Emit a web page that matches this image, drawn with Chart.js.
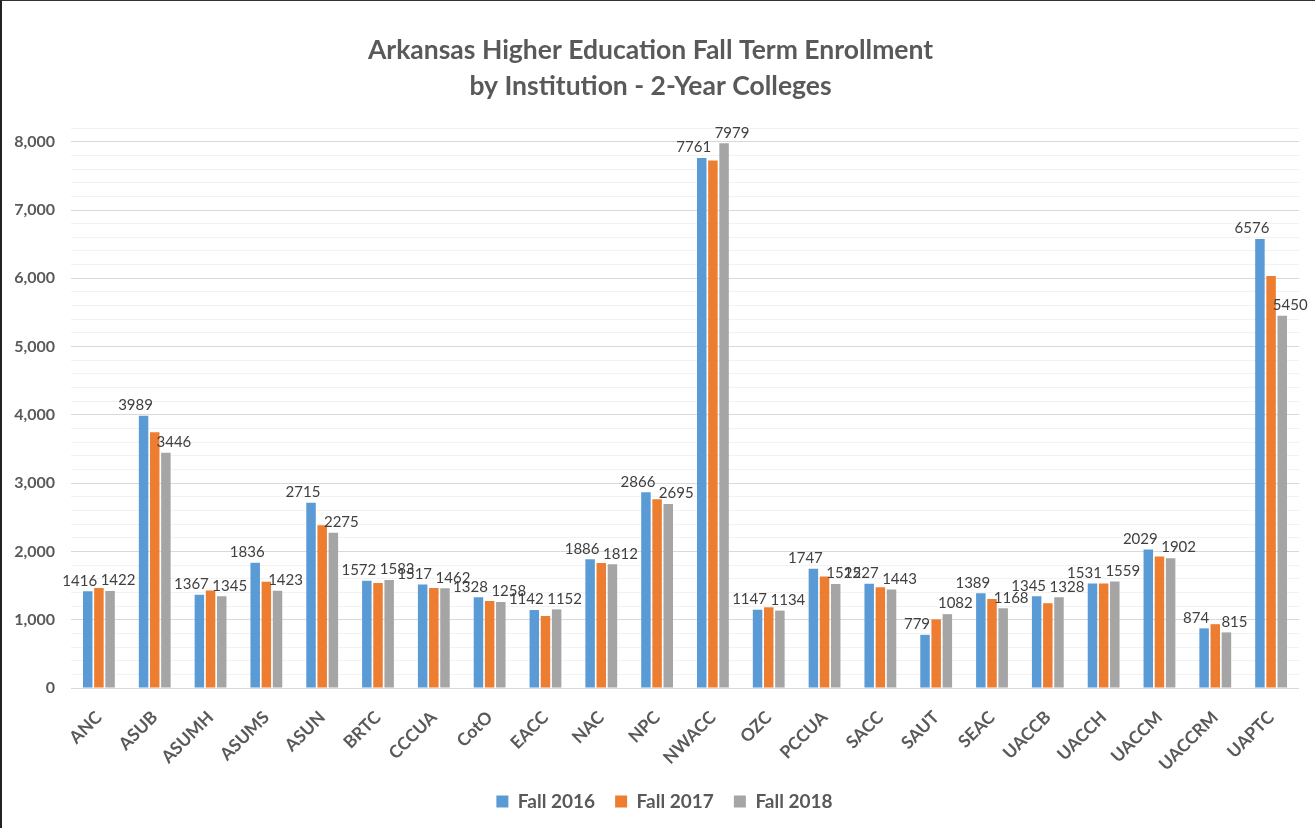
<!DOCTYPE html>
<html>
<head>
<meta charset="utf-8">
<script src="https://cdn.jsdelivr.net/npm/chart.js@4.4.1/dist/chart.umd.min.js"></script>
<style>
  html, body { margin: 0; padding: 0; background: #fff; }
  #wrap { position: relative; width: 1315px; height: 828px; box-sizing: border-box;
          border-top: 1px solid #333; border-left: 2px solid #222; }
</style>
</head>
<body>
<div id="wrap"><canvas id="c"></canvas></div>
<script>
// ---- data
const institutions = ["ANC", "ASUB", "ASUMH", "ASUMS", "ASUN", "BRTC", "CCCUA", "CotO", "EACC", "NAC", "NPC",
  "NWACC", "OZC", "PCCUA", "SACC", "SAUT", "SEAC", "UACCB", "UACCH", "UACCM", "UACCRM", "UAPTC"];
const fall2016 = [1416, 3989, 1367, 1836, 2715, 1572, 1517, 1328, 1142, 1886, 2866,
  7761, 1147, 1747, 1527, 779, 1389, 1345, 1531, 2029, 874, 6576];
const fall2017 = [1465, 3745, 1430, 1558, 2385, 1538, 1465, 1275, 1055, 1830, 2765,
  7725, 1182, 1632, 1475, 1005, 1305, 1242, 1532, 1927, 935, 6035];
const fall2018 = [1422, 3446, 1345, 1423, 2275, 1583, 1462, 1258, 1152, 1812, 2695,
  7979, 1134, 1522, 1443, 1082, 1168, 1328, 1559, 1902, 815, 5450];
const seriesNames = ["Fall 2016", "Fall 2017", "Fall 2018"];
const titleLines = ["Arkansas Higher Education Fall Term Enrollment", "by Institution - 2-Year Colleges"];

const FONT = "Lato, 'Open Sans', sans-serif";
const GREY_TXT = "#595959";

// data labels: Excel shows values for Fall 2016 and Fall 2018 only
const valueLabels = {
  id: "valueLabels",
  afterDatasetsDraw(chart) {
    const ctx = chart.ctx;
    ctx.save();
    ctx.font = "15px " + FONT;
    ctx.fillStyle = "#404040";
    ctx.textAlign = "center";
    ctx.textBaseline = "bottom";
    [[0, -8], [2, 8]].forEach(([di, dx]) => {
      const meta = chart.getDatasetMeta(di);
      meta.data.forEach((bar, i) => {
        ctx.fillText(String(chart.data.datasets[di].data[i]), bar.x + dx, bar.y - 3);
      });
    });
    ctx.restore();
  },
};

// legend in the original sits a little right of the canvas centre
const legendNudge = {
  id: "legendNudge",
  afterLayout(chart) { chart.legend.left += 14; chart.legend.right += 14; },
};

new Chart(document.getElementById("c"), {
  type: "bar",
  data: {
    labels: institutions,
    datasets: [
      { label: seriesNames[0], data: fall2016, backgroundColor: "#5B9BD5" },
      { label: seriesNames[1], data: fall2017, backgroundColor: "#ED7D31" },
      { label: seriesNames[2], data: fall2018, backgroundColor: "#A5A5A5" },
    ],
  },
  options: {
    responsive: true, maintainAspectRatio: false, animation: false,
    datasets: { bar: { categoryPercentage: 0.6, barPercentage: 0.85 } },
    layout: { padding: { left: 0, right: 16, top: 0, bottom: 7 } },
    plugins: {
      title: {
        display: true, text: titleLines, color: GREY_TXT,
        font: { family: FONT, size: 26.5, weight: "bold", lineHeight: 1.36 },
        padding: { top: 31, bottom: 24 },
      },
      legend: {
        position: "bottom",
        labels: { color: GREY_TXT, boxWidth: 12, boxHeight: 12, padding: 20,
          font: { family: FONT, size: 19, weight: "bold" } },
      },
      tooltip: { enabled: false },
    },
    scales: {
      x: {
        grid: { display: false },
        border: { display: false },
        afterFit: axis => { axis.height -= 14; },
        ticks: { color: GREY_TXT, maxRotation: 45, minRotation: 45, autoSkip: false, padding: 11,
          font: { family: FONT, size: 17.5, weight: "bold" } },
      },
      y: {
        min: 0, max: 8200,
        border: { display: false },
        afterFit: axis => { axis.width = 69; },
        grid: { color: c => (c.tick.value % 1000 === 0 ? "#D9D9D9" : "#F2F2F2"), lineWidth: 1, drawTicks: false },
        ticks: { stepSize: 200, autoSkip: false, padding: 16, color: GREY_TXT,
          font: { family: FONT, size: 16, weight: "bold" },
          callback: v => (v % 1000 === 0 ? v.toLocaleString("en-US") : "") },
      },
    },
  },
  plugins: [valueLabels, legendNudge],
});
</script>
</body>
</html>
